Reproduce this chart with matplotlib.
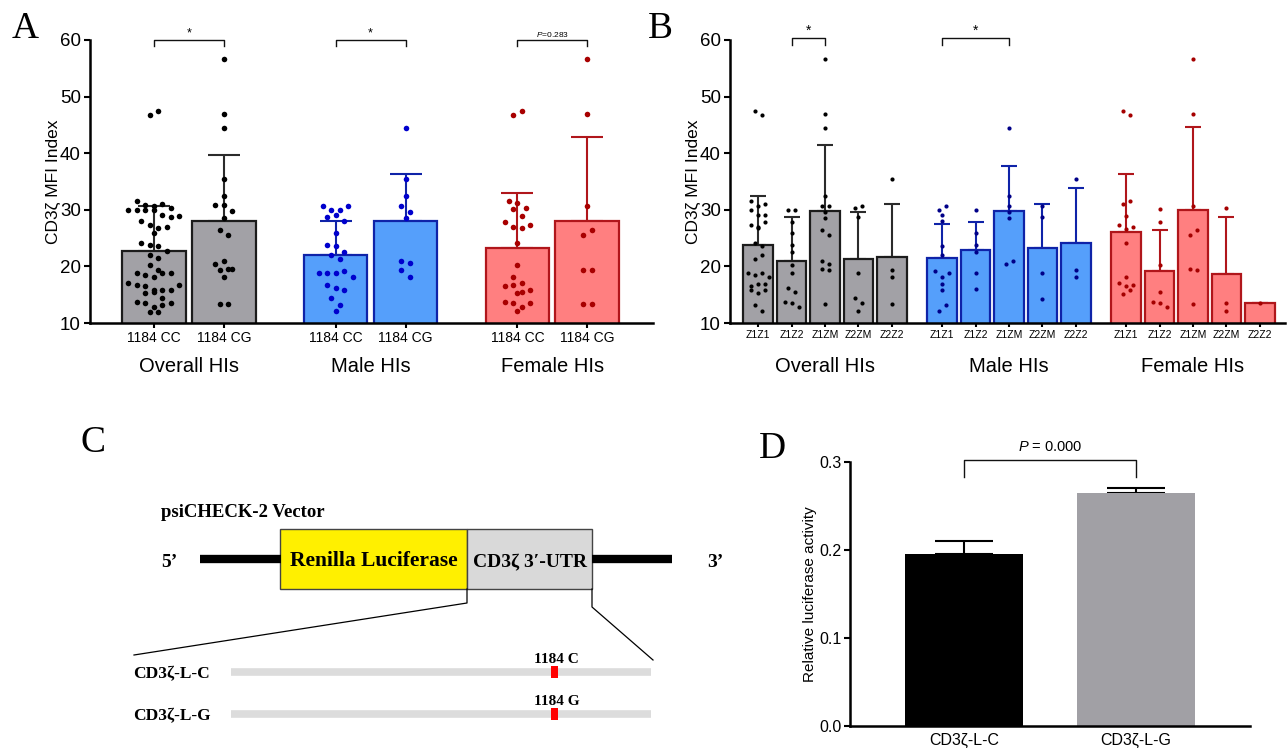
import numpy as np
import matplotlib.pyplot as plt
from matplotlib.patches import Rectangle

plt.rcParams['font.family'] = ['Liberation Sans', 'DejaVu Sans']
plt.rcParams['mathtext.fontset'] = 'custom'
plt.rcParams['mathtext.rm'] = 'Liberation Sans'
plt.rcParams['mathtext.it'] = 'Liberation Sans:italic'
SERIF = ['Liberation Serif', 'DejaVu Serif']

# ---------------- datos panel A ----------------
a_groups = ['Overall HIs', 'Male HIs', 'Female HIs']
a_ticklabels = ['1184 CC', '1184 CG']
a_means = [22.7, 28.1, 22.1, 28.1, 23.3, 28.1]
a_sd = [8.0, 11.5, 6.0, 8.3, 9.7, 14.8]

overall_cc = [46.8, 47.4, 31.5, 30.8, 30.0, 30.0, 30.0, 30.0, 30.6, 31.1, 30.3, 29.1, 28.7,
              28.1, 28.9, 27.3, 26.8, 25.9, 26.9, 24.1, 23.8, 23.6, 22.8, 22.1, 21.4, 20.3,
              19.3, 18.8, 18.4, 18.1, 18.8, 18.8, 17.1, 16.8, 16.5, 15.9, 15.3, 15.8, 15.4,
              15.9, 16.8, 14.4, 13.7, 13.5, 12.9, 12.0, 12.0, 13.1, 13.5]
overall_cg = [56.6, 46.9, 44.5, 35.4, 32.5, 30.8, 30.8, 29.8, 28.6, 26.4, 25.6, 20.5, 20.9,
              19.6, 19.4, 19.5, 18.1, 13.4, 13.4]
male_cc = [30.6, 30.0, 30.0, 30.7, 28.8, 29.1, 28.1, 25.9, 23.8, 23.6, 22.6, 22.1, 21.3,
           18.9, 18.9, 18.9, 19.1, 18.1, 16.8, 16.1, 15.8, 14.4, 13.1, 12.1]
male_cg = [44.5, 35.4, 32.5, 30.7, 29.6, 28.5, 20.9, 20.6, 19.4, 18.1]
female_cc = [46.8, 47.4, 31.5, 31.2, 30.3, 30.1, 28.9, 27.9, 26.9, 26.7, 27.3, 24.1, 20.3,
             18.2, 16.5, 17.1, 16.8, 15.5, 15.3, 15.8, 13.7, 13.5, 12.2, 12.9, 13.5]
female_cg = [56.6, 46.9, 30.7, 25.6, 26.4, 19.4, 19.4, 13.4, 13.4]
a_points = [overall_cc, overall_cg, male_cc, male_cg, female_cc, female_cg]

# ---------------- datos panel B ----------------
b_ticklabels = ['Z1Z1', 'Z1Z2', 'Z1ZM', 'Z2ZM', 'Z2Z2']
b_means_overall = [23.8, 20.9, 29.8, 21.3, 21.6]
b_means_male = [21.4, 22.9, 29.7, 23.2, 24.2]
b_means_female = [26.1, 19.1, 29.9, 18.7, 13.5]
b_sd_overall = [8.7, 7.9, 11.7, 8.3, 9.5]
b_sd_male = [6.1, 4.9, 8.0, 7.8, 9.7]
b_sd_female = [10.3, 7.3, 14.7, 10.1, 0.0]

b_overall_z1z1 = [47.4, 46.8, 31.5, 30.7, 31.1, 29.9, 29.1, 29.1, 27.3, 26.7, 26.9, 27.9, 24.1,
                  23.6, 21.3, 22.1, 18.9, 18.4, 18.9, 18.1, 16.6, 16.9, 16.9, 15.8, 15.3, 15.8,
                  13.1, 12.1]
b_overall_z1z2 = [30.0, 30.0, 27.8, 25.9, 23.8, 22.6, 20.3, 18.8, 16.1, 15.4, 13.7, 13.5, 12.8]
b_overall_z1zm = [56.6, 46.9, 44.5, 32.5, 30.7, 30.7, 29.6, 28.5, 26.4, 25.6, 20.9, 20.5, 19.5,
                  19.4, 13.4]
b_overall_z2zm = [30.3, 30.7, 28.7, 18.8, 14.4, 13.5, 12.1]
b_overall_z2z2 = [35.4, 19.3, 18.1, 13.4]
b_male_z1z1 = [30.0, 30.6, 29.1, 28.0, 23.6, 22.1, 19.1, 18.1, 18.9, 16.9, 15.8, 12.1, 13.1]
b_male_z1z2 = [30.0, 25.9, 22.6, 23.8, 18.8, 16.0]
b_male_z1zm = [44.5, 32.5, 30.7, 29.6, 28.5, 20.5, 20.9]
b_male_z2zm = [30.7, 28.7, 18.8, 14.3]
b_male_z2z2 = [35.4, 19.3, 18.1]
b_female_z1z1 = [47.4, 46.8, 31.1, 31.5, 28.9, 27.3, 26.6, 26.9, 24.1, 18.2, 17.1, 16.5, 16.8,
                 15.2, 15.8]
b_female_z1z2 = [30.1, 27.9, 20.3, 15.5, 13.7, 13.5, 12.9]
b_female_z1zm = [56.6, 46.9, 30.7, 25.6, 26.4, 19.5, 19.4, 13.4]
b_female_z2zm = [30.3, 13.5, 12.2]
b_female_z2z2 = [13.5]

# ---------------- datos panel D ----------------
d_labels = ['CD3ζ-L-C', 'CD3ζ-L-G']
d_means = [0.196, 0.265]
d_sd = [0.014, 0.005]

# colores
GRAY = ('#a2a1a6', '#1c1c1c', '#2b2b2b')
BLUE = ('#559ffb', '#0f23a8', '#0f23a8')
RED = ('#ff7f80', '#b0161b', '#b0161b')

W, H = 1287, 749
fig = plt.figure(figsize=(W / 100, H / 100), dpi=100)


def px_box(left, top, right, bottom):
    return [left / W, 1 - bottom / H, (right - left) / W, (bottom - top) / H]


def row_offsets(ax, values, diam, binh):
    # puntos agrupados en filas, como el "scatter dot plot" de Prism
    x0, x1 = ax.get_xlim()
    y0, y1 = ax.get_ylim()
    bb = ax.get_position()
    sx = bb.width * W / (x1 - x0)
    sy = bb.height * H / (y1 - y0)
    ys = np.asarray(values) * sy
    xs = np.zeros(len(ys))
    order = np.argsort(-ys, kind='stable')
    rows, current, start = [], [order[0]], ys[order[0]]
    for i in order[1:]:
        if start - ys[i] < binh:
            current.append(i)
        else:
            rows.append(current)
            current, start = [i], ys[i]
    rows.append(current)
    for row in rows:
        n = len(row)
        for k, i in enumerate(sorted(row)):
            xs[i] = (k - (n - 1) / 2) * diam
    return xs / sx


def style_axis(ax):
    for s in ['top', 'right']:
        ax.spines[s].set_visible(False)
    for s in ['left', 'bottom']:
        ax.spines[s].set_linewidth(1.8)


def bracket(ax, x1, x2, y_low, y_high, text, ty, fs):
    ax.plot([x1, x1, x2, x2], [y_low, y_high, y_high, y_low], color='#111111', lw=1,
            clip_on=False)
    ax.text((x1 + x2) / 2, ty, text, ha='center', va='baseline', fontsize=fs)


def draw_bars(ax, pos, means, sds, points, styles, dot_colors, width, capsize, msize, diam,
              binh):
    for p, m, sd, pts, st, dc in zip(pos, means, sds, points, styles, dot_colors):
        fill, edge, ecol = st
        ax.errorbar(p, m, yerr=[[0], [sd]], fmt='none', ecolor=ecol, elinewidth=1.5,
                    capsize=capsize, capthick=1.5, zorder=0.5)
        ax.bar(p, m, width, color=fill, edgecolor=edge, linewidth=1.6, zorder=1)
        offs = row_offsets(ax, pts, diam, binh)
        ax.scatter(p + offs, pts, s=msize, color=dc, linewidths=0, zorder=3)


# ---------------- capa de fondo (panel C y letras) ----------------
axc = fig.add_axes([0, 0, 1, 1])
axc.set_xlim(0, W)
axc.set_ylim(H, 0)
axc.axis('off')

for letter, lx, ly in [('A', 12, 38), ('B', 648, 38), ('C', 80, 452), ('D', 759, 458)]:
    axc.text(lx, ly, letter, fontsize=27, family=SERIF, va='baseline', ha='left')

axc.text(161, 517, 'psiCHECK-2 Vector', family=SERIF, fontweight='bold', fontsize=13.5,
         va='baseline')
axc.text(161, 567, '5’', family=SERIF, fontweight='bold', fontsize=14, va='baseline')
axc.text(707, 567, '3’', family=SERIF, fontweight='bold', fontsize=14, va='baseline')
axc.plot([200, 281], [559, 559], color='black', lw=6, solid_capstyle='butt')
axc.plot([592, 672], [559, 559], color='black', lw=6, solid_capstyle='butt')
axc.add_patch(Rectangle((280, 529), 187, 60, facecolor='#fff000', edgecolor='#444444', lw=1))
axc.add_patch(Rectangle((467, 529), 125, 60, facecolor='#d9d9d9', edgecolor='#444444', lw=1))
axc.text(373.5, 566, 'Renilla Luciferase', family=SERIF, fontweight='bold', fontsize=15.5,
         ha='center', va='baseline')
axc.text(530, 567, 'CD3ζ 3′-UTR', family=SERIF, fontweight='bold', fontsize=14,
         ha='center', va='baseline')
axc.plot([467, 467, 134], [589, 603, 655], color='black', lw=0.9)
axc.plot([592, 592, 653], [589, 607, 660], color='black', lw=0.9)

for name, snp, yb in [('CD3ζ-L-C', '1184 C', 672), ('CD3ζ-L-G', '1184 G', 714)]:
    axc.text(133, yb + 6, name, family=SERIF, fontweight='bold', fontsize=12.5, va='baseline')
    axc.plot([231, 651], [yb, yb], color='#dcdcdc', lw=5.5, solid_capstyle='butt', zorder=2)
    axc.add_patch(Rectangle((551, yb - 6), 7, 12, facecolor='#ff0000', edgecolor='none',
                            zorder=3))
    axc.text(534, yb - 9, snp, family=SERIF, fontweight='bold', fontsize=11, va='baseline')

# ---------------- panel A ----------------
axa = fig.add_axes(px_box(90, 40, 653, 323))
a_pos = [0, 1, 2.6, 3.6, 5.2, 6.2]
axa.set_xlim(-0.914, 7.14)
axa.set_ylim(10, 60)
style_axis(axa)
draw_bars(axa, a_pos, a_means, a_sd, a_points,
          [GRAY, GRAY, BLUE, BLUE, RED, RED],
          ['#000000', '#000000', '#0000cd', '#0000cd', '#a80000', '#a80000'],
          width=0.91, capsize=11.4, msize=16, diam=8.5, binh=7.5)
axa.set_yticks([10, 20, 30, 40, 50, 60])
axa.tick_params(axis='y', labelsize=13.5, length=4.5, width=1.5, pad=2)
axa.set_xticks(a_pos, a_ticklabels * 3)
axa.tick_params(axis='x', labelsize=10, length=3.5, width=1.5, pad=2)
axa.set_ylabel('CD3ζ MFI Index', fontsize=12.5, labelpad=-1)
for i, g in enumerate(a_groups):
    axa.text((a_pos[2 * i] + a_pos[2 * i + 1]) / 2, -0.152, g, fontsize=14.5, ha='center',
             va='center', transform=axa.get_xaxis_transform())
bracket(axa, a_pos[0], a_pos[1], 59.0, 60.05, '*', 60.7, 9)
bracket(axa, a_pos[2], a_pos[3], 59.0, 60.05, '*', 60.7, 9)
bracket(axa, a_pos[4], a_pos[5], 59.0, 60.05, r'$P$=0.283', 60.5, 6)

# ---------------- panel B ----------------
axb = fig.add_axes(px_box(730, 40, 1285, 323))
b_pos = [0, 1, 2, 3, 4, 5.5, 6.5, 7.5, 8.5, 9.5, 11, 12, 13, 14, 15]
axb.set_xlim(-0.84, 15.75)
axb.set_ylim(10, 60)
style_axis(axb)
b_points = [b_overall_z1z1, b_overall_z1z2, b_overall_z1zm, b_overall_z2zm, b_overall_z2z2,
            b_male_z1z1, b_male_z1z2, b_male_z1zm, b_male_z2zm, b_male_z2z2,
            b_female_z1z1, b_female_z1z2, b_female_z1zm, b_female_z2zm, b_female_z2z2]
draw_bars(axb, b_pos, b_means_overall + b_means_male + b_means_female,
          b_sd_overall + b_sd_male + b_sd_female, b_points,
          [GRAY] * 5 + [BLUE] * 5 + [RED] * 5,
          ['#000000'] * 5 + ['#000088'] * 5 + ['#a50000'] * 5,
          width=0.88, capsize=5.8, msize=9, diam=7.0, binh=6.0)
axb.set_yticks([10, 20, 30, 40, 50, 60])
axb.tick_params(axis='y', labelsize=13.5, length=4.5, width=1.5, pad=2)
axb.set_xticks(b_pos, b_ticklabels * 3)
axb.tick_params(axis='x', labelsize=7.5, length=3, width=1.5, pad=2)
axb.set_ylabel('CD3ζ MFI Index', fontsize=12.5, labelpad=-1)
for i, g in enumerate(a_groups):
    axb.text(np.mean(b_pos[5 * i:5 * i + 5]), -0.152, g, fontsize=14.5, ha='center',
             va='center', transform=axb.get_xaxis_transform())
bracket(axb, b_pos[1], b_pos[2], 59.1, 60.3, '*', 60.9, 10)
bracket(axb, b_pos[5], b_pos[7], 59.1, 60.3, '*', 60.9, 10)

# ---------------- panel D ----------------
axd = fig.add_axes(px_box(850, 462, 1250, 726))
d_pos = [0, 1]
axd.set_xlim(-0.663, 1.663)
axd.set_ylim(0, 0.3)
style_axis(axd)
for p, m, sd, c in zip(d_pos, d_means, d_sd, ['#000000', '#a1a0a5']):
    axd.errorbar(p, m, yerr=[[0], [sd]], fmt='none', ecolor='black', elinewidth=1.5,
                 capsize=20.6, capthick=1.5, zorder=0.5)
    axd.bar(p, m, 0.686, color=c, zorder=1)
axd.set_yticks([0, 0.1, 0.2, 0.3], ['0.0', '0.1', '0.2', '0.3'])
axd.tick_params(axis='y', labelsize=11.5, length=4, width=1.5, pad=2)
axd.set_xticks(d_pos, d_labels)
axd.tick_params(axis='x', labelsize=11.5, length=0, pad=5)
axd.set_ylabel('Relative luciferase activity', fontsize=11, labelpad=2)
bracket(axd, d_pos[0], d_pos[1], 0.283, 0.3026, r'$P$ = 0.000', 0.3125, 10.5)

fig.savefig('out.png', dpi=100)
